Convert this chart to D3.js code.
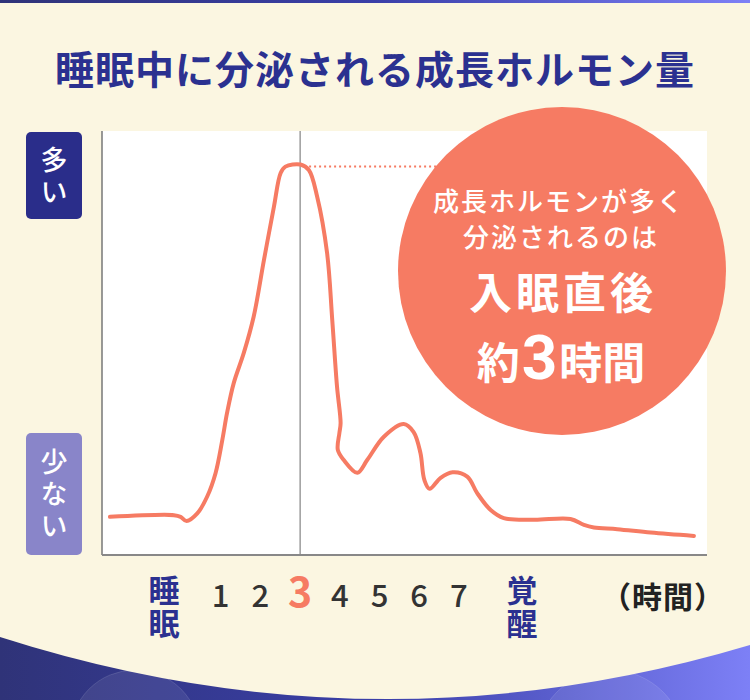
<!DOCTYPE html>
<html><head><meta charset="utf-8">
<script src="https://cdn.jsdelivr.net/npm/d3@7"></script>
<style>
html,body{margin:0;padding:0;background:#fbf6e1;}
svg{display:block;}
text{font-family:"Noto Sans CJK JP","Noto Sans",sans-serif;}
</style></head>
<body>
<script>
// ---- data ----
const title = "睡眠中に分泌される成長ホルモン量";
const hourTicks = [1, 2, 3, 4, 5, 6, 7];
const highlightHour = 3;
const startLabel = "睡眠";
const endLabel = "覚醒";
const unitLabel = "（時間）";
const yHighLabel = "多い";
const yLowLabel = "少ない";
const curveHours = [-1.79, -0.18, -0.01, 0.14, 0.41, 0.66, 0.87, 1.04, 1.16, 1.33, 1.58, 1.83, 2.09, 2.34, 2.51, 2.63, 3.01, 3.22, 3.43, 3.68, 3.81, 3.93, 4.02, 3.99, 3.95, 4.10, 4.44, 4.69, 5.11, 5.61, 5.86, 6.03, 6.13, 6.26, 6.54, 6.84, 7.21, 7.46, 7.80, 8.13, 8.89, 9.81, 10.15, 10.40, 10.99, 11.83, 12.92];
const curveLevels = [9.0, 9.4, 9.0, 8.0, 9.8, 13.8, 19.3, 27.1, 33.5, 40.6, 47.6, 56.2, 69.6, 82.1, 90.1, 91.6, 92.1, 90.8, 84.5, 71.2, 55.4, 39.7, 31.1, 28.8, 24.8, 22.4, 19.4, 22.4, 27.9, 30.9, 29.0, 24.1, 17.7, 15.6, 18.2, 19.5, 18.5, 14.6, 10.6, 8.7, 8.3, 8.5, 7.1, 6.5, 6.1, 5.3, 4.5];
const peakLevel = 92;
const calloutLines = ["成長ホルモンが多く", "分泌されるのは", "入眠直後"];
const calloutLast = ["約", "3", "時間"];

// ---- layout ----
const W = 750, H = 700;
const plot = {left: 102, right: 707, top: 131, bottom: 555};
const navy = "#2b3190", coral = "#f67b63";

const svg = d3.select("body").append("svg").attr("width", W).attr("height", H);
const defs = svg.append("defs");
const g1 = defs.append("linearGradient").attr("id", "bandGrad").attr("x1", "0").attr("x2", "1").attr("y1", "0").attr("y2", "0");
g1.append("stop").attr("offset", "0").attr("stop-color", "#2f3378");
g1.append("stop").attr("offset", "0.5").attr("stop-color", "#3a3fa8");
g1.append("stop").attr("offset", "1").attr("stop-color", "#7d80f6");

// background
svg.append("rect").attr("width", W).attr("height", H).attr("fill", "url(#bandGrad)");
svg.append("circle").attr("cx", 135).attr("cy", 735).attr("r", 65).attr("fill", "#ffffff").attr("fill-opacity", 0.08).attr("stroke", "#ffffff").attr("stroke-opacity", 0.12);
svg.append("circle").attr("cx", 610).attr("cy", 745).attr("r", 75).attr("fill", "#ffffff").attr("fill-opacity", 0.08).attr("stroke", "#ffffff").attr("stroke-opacity", 0.12);
svg.append("path").attr("d", "M0,3 L750,3 L750,645 Q375,757 0,637 Z").attr("fill", "#fbf6e1");

// title
svg.append("text").attr("x", W / 2).attr("y", 67).attr("text-anchor", "middle").attr("dominant-baseline", "central")
  .attr("font-size", 39).attr("font-weight", 700).attr("fill", navy).attr("letter-spacing", 1).text(title);

// scales
const x = d3.scaleLinear().domain([0, 7]).range([181, 181 + 7 * 39.7]);
const y = d3.scaleLinear().domain([0, 100]).range([plot.bottom, plot.bottom - 424]);

// plot area
svg.append("rect").attr("x", plot.left).attr("y", plot.top).attr("width", plot.right - plot.left).attr("height", plot.bottom - plot.top).attr("fill", "#ffffff");
svg.append("line").attr("x1", x(highlightHour)).attr("x2", x(highlightHour)).attr("y1", plot.top).attr("y2", plot.bottom).attr("stroke", "#6b6b6b").attr("stroke-width", 1);

// dotted peak line
svg.append("line").attr("x1", x(highlightHour) + 4).attr("x2", 560).attr("y1", y(peakLevel) + 1.5).attr("y2", y(peakLevel) + 1.5)
  .attr("stroke", coral).attr("stroke-width", 2).attr("stroke-dasharray", "2 3");

// curve
const pts = curveHours.map((h, i) => [h, curveLevels[i]]);
const line = d3.line().x(d => x(d[0])).y(d => y(d[1])).curve(d3.curveCatmullRom.alpha(0.5));
svg.append("path").attr("d", line(pts)).attr("fill", "none").attr("stroke", coral).attr("stroke-width", 4).attr("stroke-linecap", "round").attr("stroke-linejoin", "round");

// axes lines
svg.append("line").attr("x1", plot.left).attr("x2", plot.left).attr("y1", plot.top).attr("y2", plot.bottom).attr("stroke", "#777").attr("stroke-width", 1.5);
svg.append("line").attr("x1", plot.left).attr("x2", plot.right).attr("y1", plot.bottom).attr("y2", plot.bottom).attr("stroke", "#888").attr("stroke-width", 2);

// callout circle
svg.append("circle").attr("cx", 562).attr("cy", 271).attr("r", 164).attr("fill", coral);
const ct = svg.append("g").attr("fill", "#ffffff").attr("text-anchor", "middle");
ct.append("text").attr("x", 559).attr("y", 211).attr("font-size", 26).attr("font-weight", 500).attr("letter-spacing", 2).text(calloutLines[0]);
ct.append("text").attr("x", 561).attr("y", 247).attr("font-size", 26).attr("font-weight", 500).attr("letter-spacing", 2).text(calloutLines[1]);
ct.append("text").attr("x", 563).attr("y", 309).attr("font-size", 43).attr("font-weight", 700).attr("letter-spacing", 4).text(calloutLines[2]);
const t4 = ct.append("text").attr("x", 561).attr("y", 379).attr("font-weight", 700);
t4.append("tspan").attr("font-size", 43).text(calloutLast[0]);
t4.append("tspan").attr("font-size", 62).attr("font-family", "Roboto,sans-serif").attr("font-weight", 700).attr("dx", 2).text(calloutLast[1]);
t4.append("tspan").attr("font-size", 43).attr("dx", 2).text(calloutLast[2]);

// vertical text helper (single string, vertical writing mode)
function vtext(cx, cy, str, size, step, weight, color) {
  const ls = step - size;
  svg.append("text").attr("x", cx).attr("y", cy + ls / 2).attr("text-anchor", "middle")
    .style("writing-mode", "vertical-rl").style("text-orientation", "upright")
    .attr("letter-spacing", ls)
    .attr("font-size", size).attr("font-weight", weight).attr("fill", color).text(str);
}

// y indicators
function yBox(y0, y1, color, str) {
  svg.append("rect").attr("x", 26).attr("y", y0).attr("width", 56).attr("height", y1 - y0).attr("rx", 5).attr("fill", color);
  vtext(54, (y0 + y1) / 2, str, 27, 32, 500, "#ffffff");
}
yBox(132, 219, "#2a2d8a", yHighLabel);
yBox(433, 555, "#8985c9", yLowLabel);

// x tick labels
const xAxis = svg.append("g");
hourTicks.forEach(h => {
  const hl = h === highlightHour;
  xAxis.append("text").attr("x", x(h)).attr("y", 607).attr("text-anchor", "middle")
    .attr("font-family", "'Noto Sans',sans-serif")
    .attr("font-size", hl ? 41 : 31).attr("font-weight", hl ? 600 : 500)
    .attr("fill", hl ? coral : "#333333").text(h);
});
vtext(164, 606.5, startLabel, 31, 33.5, 700, navy);
vtext(522, 606.5, endLabel, 31, 33.5, 700, navy);
svg.append("text").attr("x", 663).attr("y", 595).attr("text-anchor", "middle").attr("dominant-baseline", "central")
  .attr("font-size", 30).attr("font-weight", 700).attr("letter-spacing", 1).attr("fill", "#222").text(unitLabel);

// top bar
svg.append("rect").attr("x", 0).attr("y", 0).attr("width", W).attr("height", 3).attr("fill", "url(#bandGrad)");
</script>
</body></html>
